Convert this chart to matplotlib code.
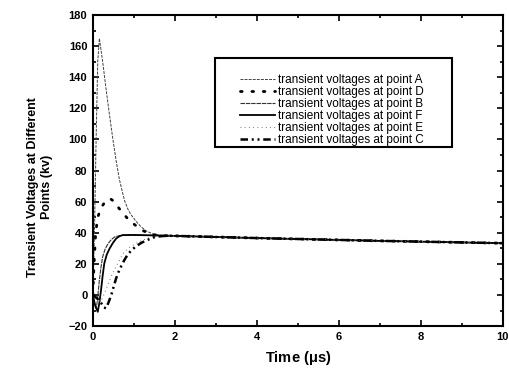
import numpy as np
import matplotlib.pyplot as plt
from matplotlib.patches import Rectangle
from matplotlib.ticker import MultipleLocator

plt.rcParams.update({
    'font.family': 'sans-serif',
    'font.sans-serif': ['Liberation Sans', 'DejaVu Sans'],
    'font.size': 8,
})

# common slow decay after all curves merge (t in us, kV)
t_tail = [2, 3, 4, 5, 6, 7, 8, 9, 10]
v_tail = [38.0, 37.3, 36.6, 36.0, 35.4, 34.8, 34.3, 33.8, 33.3]

t_A = [0, 0.04, 0.08, 0.12, 0.16, 0.25, 0.32, 0.4, 0.49, 0.57, 0.65, 0.77, 0.85, 0.93,
       1.05, 1.17, 1.3, 1.5, 1.75]
v_A = [0, 40, 100, 150, 165, 148, 133, 117, 100, 86, 74, 61, 55.5, 51.7,
       47.5, 44, 41.2, 38.8, 38.2]

t_D = [0, 0.03, 0.07, 0.12, 0.2, 0.3, 0.42, 0.5, 0.6, 0.77, 0.87, 0.98, 1.18,
       1.38, 1.6, 1.8]
v_D = [0, 20, 40, 50, 56, 60, 62, 60.5, 57, 51.5, 48.5, 46, 42,
       39.3, 38.3, 38.1]

t_B = [0, 0.04, 0.08, 0.11, 0.16, 0.2, 0.24, 0.3, 0.37, 0.45, 0.53, 0.69, 1.0, 1.5]
v_B = [0, -5, -8.4, -4, 9.6, 18, 24.6, 29.5, 33, 35.6, 37.3, 38.4, 38.5, 38.3]

t_F = [0, 0.06, 0.12, 0.16, 0.2, 0.24, 0.28, 0.34, 0.41, 0.49, 0.57, 0.65, 0.73,
       1.0, 1.5]
v_F = [0, -7, -10.8, -5, 3.1, 12.5, 20.3, 26, 29.9, 33.5, 36.3, 37.8, 38.5,
       38.6, 38.3]

t_E = [0, 0.1, 0.2, 0.3, 0.38, 0.45, 0.53, 0.61, 0.69, 0.77, 0.88, 0.98, 1.1,
       1.22, 1.46, 1.7]
v_E = [0, -3, -4, 2, 7.5, 12, 16.5, 20.3, 24.3, 27.8, 30.3, 32, 33.8,
       35.3, 37.5, 38.2]

t_C = [0, 0.1, 0.2, 0.27, 0.32, 0.38, 0.45, 0.51, 0.57, 0.63, 0.69, 0.77, 0.85,
       0.95, 1.06, 1.18, 1.3, 1.42, 1.54, 1.8]
v_C = [0, -2, -5, -8, -8.5, -5, 0, 5.5, 10.9, 15, 18.4, 22.5, 26,
       29, 31.4, 33.5, 35, 36.4, 37.5, 38.1]

labels = ['transient voltages at point A', 'transient voltages at point D',
          'transient voltages at point B', 'transient voltages at point F',
          'transient voltages at point E', 'transient voltages at point C']


def full(t, v):
    return list(t) + t_tail, list(v) + v_tail


fig = plt.figure(figsize=(5.1, 3.74), dpi=100)
ax = fig.add_axes([0.182, 0.128, 0.804, 0.832])

x, y = full(t_A, v_A)
ax.plot(x, y, color='0.25', lw=0.7, ls=(0, (3, 1.2)), label=labels[0])
x, y = full(t_D, v_D)
ax.plot(x, y, color='black', lw=2.0, ls=(0, (0.6, 3.5)), dash_capstyle='round',
        label=labels[1])
x, y = full(t_B, v_B)
ax.plot(x, y, color='0.2', lw=0.8, ls=(0, (4, 0.8)), label=labels[2])
x, y = full(t_F, v_F)
ax.plot(x, y, color='black', lw=1.3, ls='-', label=labels[3])
x, y = full(t_E, v_E)
ax.plot(x, y, color='0.45', lw=0.8, ls=(0, (0.8, 3)), label=labels[4])
x, y = full(t_C, v_C)
ax.plot(x, y, color='black', lw=1.8, ls=(0, (3, 1.5, 0.8, 1.5, 0.8, 1.5)),
        label=labels[5])

ax.set_xlim(0, 10)
ax.set_ylim(-20, 180)
ax.xaxis.set_major_locator(MultipleLocator(2))
ax.xaxis.set_minor_locator(MultipleLocator(1))
ax.yaxis.set_major_locator(MultipleLocator(20))
ax.yaxis.set_minor_locator(MultipleLocator(10))
ax.tick_params(which='both', direction='in', top=True, right=True, width=1.2)
ax.tick_params(which='major', length=4, labelsize=8, pad=4)
ax.tick_params(which='minor', length=2)
for lab in ax.get_xticklabels() + ax.get_yticklabels():
    lab.set_fontweight('bold')
for sp in ax.spines.values():
    sp.set_linewidth(1.5)

ax.set_xlabel('Time ($\\mathregular{\\mu}$s)', fontsize=10.5, fontweight='bold',
              labelpad=5)
fig.text(0.078, 0.50, 'Transient Voltages at Different\nPoints (kv)', rotation=90,
         ha='center', va='center', fontsize=9, fontweight='bold', linespacing=1.25)

# legend box drawn separately (text sits lower in the box than legend padding allows)
ax.add_patch(Rectangle((0.2976, 0.5756), 0.578, 0.2861, transform=ax.transAxes,
                       fill=True, facecolor='white', edgecolor='black', lw=1.5,
                       zorder=4))
leg = ax.legend(loc='upper left', bbox_to_anchor=(0.3585, 0.81), fontsize=8.5,
                frameon=False, handlelength=3.0, handletextpad=0.25,
                labelspacing=0.0, borderpad=0, borderaxespad=0)
leg.set_zorder(5)

fig.savefig('out.png', dpi=100)
